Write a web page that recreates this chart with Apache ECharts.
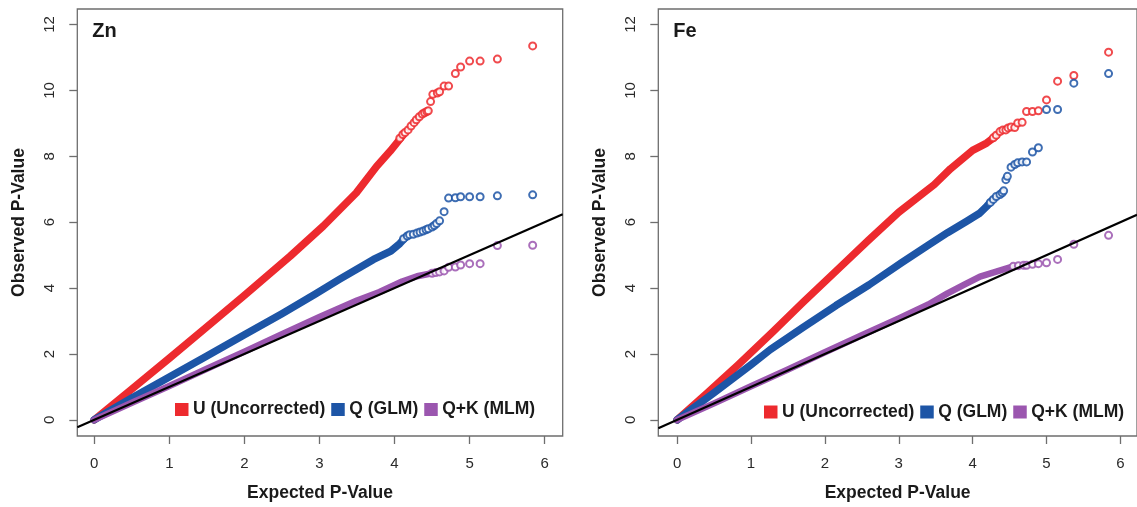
<!DOCTYPE html>
<html>
<head>
<meta charset="utf-8">
<script src="https://cdn.jsdelivr.net/npm/echarts@6/dist/echarts.min.js"></script>
<style>
html,body{margin:0;padding:0;background:#fff;}
#chart{width:1137px;height:507px;}
</style>
</head>
<body>
<div id="chart"></div>
<script>
// ---------- data ----------
const panelTitles = ['Zn', 'Fe'];
const seriesNames = ['U (Uncorrected)', 'Q (GLM)', 'Q+K (MLM)'];
const xTicks = [0, 1, 2, 3, 4, 5, 6];
const yTicks = [0, 2, 4, 6, 8, 10, 12];

// Zn: dense body (expected, observed) and sparse upper tail
const znUBody = [[0,0],[0.5,0.93],[1.0,1.87],[1.5,2.82],[2.0,3.78],[2.61,4.97],[3.05,5.88],[3.49,6.89],[3.76,7.69],[3.94,8.15],[4.1,8.6]];
const znUTail = [[4.07,8.55],[4.11,8.66],[4.14,8.72],[4.18,8.8],[4.22,8.92],[4.26,9.02],[4.29,9.11],[4.33,9.2],[4.37,9.28],[4.4,9.32],[4.43,9.36],[4.45,9.38],[4.48,9.66],[4.51,9.88],[4.57,9.92],[4.6,9.96],[4.66,10.13],[4.72,10.13],[4.81,10.51],[4.88,10.71],[5.0,10.89],[5.14,10.89],[5.37,10.95],[5.84,11.35]];
const znQBody = [[0,0],[0.5,0.66],[1.0,1.3],[1.5,1.94],[2.0,2.58],[2.5,3.22],[2.94,3.81],[3.27,4.27],[3.72,4.87],[3.95,5.12],[4.07,5.35],[4.15,5.55]];
const znQTail = [[4.12,5.5],[4.17,5.58],[4.2,5.62],[4.25,5.63],[4.3,5.67],[4.34,5.7],[4.38,5.73],[4.42,5.77],[4.45,5.8],[4.5,5.85],[4.53,5.9],[4.56,5.96],[4.6,6.04],[4.66,6.32],[4.72,6.73],[4.81,6.74],[4.88,6.77],[5.0,6.77],[5.14,6.77],[5.37,6.8],[5.84,6.83]];
const znQKBody = [[0,0],[0.5,0.52],[1.0,1.03],[1.5,1.55],[2.0,2.07],[2.5,2.6],[3.0,3.12],[3.5,3.62],[3.8,3.88],[4.1,4.2],[4.3,4.36],[4.5,4.45]];
const znQKTail = [[4.5,4.45],[4.55,4.47],[4.6,4.49],[4.66,4.52],[4.72,4.63],[4.81,4.64],[4.88,4.7],[5.0,4.74],[5.14,4.74],[5.37,5.29],[5.84,5.3]];

// Fe
const feUBody = [[0,0],[0.4,0.8],[0.82,1.66],[1.3,2.68],[1.7,3.56],[2.2,4.62],[2.59,5.45],[3.0,6.3],[3.48,7.14],[3.7,7.62],[3.85,7.9],[4.0,8.18],[4.19,8.4],[4.32,8.62]];
const feUTail = [[4.28,8.56],[4.32,8.64],[4.37,8.75],[4.41,8.8],[4.45,8.8],[4.48,8.86],[4.52,8.89],[4.57,8.87],[4.61,9.01],[4.67,9.03],[4.73,9.36],[4.81,9.36],[4.89,9.38],[5.0,9.71],[5.15,10.28],[5.37,10.45],[5.84,11.16]];
const feQBody = [[0,0],[0.5,0.82],[1.0,1.67],[1.26,2.13],[1.7,2.8],[2.15,3.47],[2.6,4.1],[3.04,4.77],[3.4,5.3],[3.66,5.68],[3.92,6.03],[4.1,6.28],[4.19,6.48],[4.26,6.65]];
const feQTail = [[4.24,6.6],[4.28,6.69],[4.32,6.78],[4.37,6.84],[4.4,6.89],[4.42,6.95],[4.45,7.29],[4.47,7.39],[4.52,7.67],[4.57,7.75],[4.61,7.8],[4.67,7.83],[4.73,7.83],[4.81,8.13],[4.89,8.26],[5.0,9.42],[5.15,9.42],[5.37,10.22],[5.84,10.51]];
const feQKBody = [[0,0],[0.5,0.5],[1.0,1.02],[1.5,1.53],[2.0,2.05],[2.5,2.57],[3.0,3.08],[3.4,3.5],[3.66,3.84],[3.9,4.12],[4.1,4.35],[4.32,4.5],[4.55,4.66]];
const feQKTail = [[4.55,4.66],[4.62,4.68],[4.69,4.69],[4.73,4.69],[4.81,4.72],[4.89,4.74],[5.0,4.77],[5.15,4.87],[5.37,5.33],[5.84,5.6]];

// axis extents (R-style padded ranges)
const xRangeZn = [-0.226, 6.24];
const xRangeFe = [-0.255, 6.225];
const yRange = [-0.49, 12.47];

// ---------- styling ----------
const colors = ['#ED2A2E', '#1D55A6', '#9B56AF'];
const FONT = '"Liberation Sans", Arial, Helvetica, sans-serif';
const boxColor = '#6e6e6e';

const panels = [
  {title: panelTitles[0], xr: xRangeZn, data: [[znUBody, znUTail],[znQBody, znQTail],[znQKBody, znQKTail]]},
  {title: panelTitles[1], xr: xRangeFe, data: [[feUBody, feUTail],[feQBody, feQTail],[feQKBody, feQKTail]]}
];
const gridLefts = [77.3, 658.3];
const legendLefts = [175, 764];
const legendTops = [400.5, 403];

const option = {
  animation: false,
  backgroundColor: '#fff',
  textStyle: {fontFamily: FONT},
  title: panels.map((p, i) => ({
    text: p.title, left: gridLefts[i] + 15, top: 21.5, padding: 0,
    textStyle: {fontFamily: FONT, fontSize: 20, fontWeight: 'bold', color: '#1a1a1a'}
  })),
  legend: panels.map((p, i) => ({
    left: legendLefts[i], top: legendTops[i], orient: 'horizontal', padding: 0,
    itemWidth: 13.5, itemHeight: 13, itemGap: 6, selectedMode: false,
    textStyle: {fontFamily: FONT, fontSize: 17.5, fontWeight: 'bold', color: '#1a1a1a', padding: [0,0,0,-0.5]},
    data: seriesNames.map((n, k) => ({name: n, icon: 'rect', itemStyle: {color: colors[k], borderWidth: 0}}))
  })),
  grid: panels.map((p, i) => ({
    left: gridLefts[i], top: 9, width: 485.4, height: 428.3,
    show: true, borderColor: boxColor, borderWidth: 1.3, backgroundColor: 'transparent'
  })),
  xAxis: panels.map((p, i) => ({
    type: 'value', gridIndex: i, min: p.xr[0], max: p.xr[1],
    name: 'Expected P-Value', nameLocation: 'middle', nameGap: 48,
    nameTextStyle: {fontFamily: FONT, fontSize: 17.5, fontWeight: 'bold', color: '#1a1a1a'},
    axisLine: {show: false, onZero: false},
    splitLine: {show: false},
    axisTick: {show: true, inside: false, length: 8, lineStyle: {color: boxColor, width: 1.3}, customValues: xTicks},
    axisLabel: {margin: 20, fontFamily: FONT, fontSize: 15, color: '#2a2a2a', customValues: xTicks}
  })),
  yAxis: panels.map((p, i) => ({
    type: 'value', gridIndex: i, min: yRange[0], max: yRange[1],
    name: 'Observed P-Value', nameLocation: 'middle', nameGap: 49, nameRotate: 90,
    nameTextStyle: {fontFamily: FONT, fontSize: 17.5, fontWeight: 'bold', color: '#1a1a1a'},
    axisLine: {show: false, onZero: false},
    splitLine: {show: false},
    axisTick: {show: true, inside: false, length: 8, lineStyle: {color: boxColor, width: 1.3}, customValues: yTicks},
    axisLabel: {margin: 20, rotate: 90, fontFamily: FONT, fontSize: 15, color: '#2a2a2a', customValues: yTicks}
  })),
  series: []
};

panels.forEach((p, i) => {
  p.data.forEach((pair, k) => {
    option.series.push({
      name: seriesNames[k], type: 'line', xAxisIndex: i, yAxisIndex: i,
      data: pair[0], showSymbol: false, symbol: 'none', smooth: false, silent: true,
      lineStyle: {color: colors[k], width: k === 2 ? 6.5 : 7.5, cap: 'round', join: 'round'},
      itemStyle: {color: colors[k]}, z: 2 + k
    });
    option.series.push({
      name: seriesNames[k], type: 'scatter', xAxisIndex: i, yAxisIndex: i,
      data: pair[1], symbol: 'emptyCircle', symbolSize: 7, silent: true,
      itemStyle: {color: colors[k], borderWidth: 1, opacity: 0.85}, z: 2 + k
    });
  });
  // reference line y = x across the full x extent of the panel
  option.series.push({
    type: 'line', xAxisIndex: i, yAxisIndex: i, silent: true, clip: true,
    data: [[p.xr[0], p.xr[0]], [p.xr[1], p.xr[1]]], showSymbol: false, symbol: 'none',
    lineStyle: {color: '#000', width: 2.2}, z: 10
  });
});

const chart = echarts.init(document.getElementById('chart'), null, {renderer: 'canvas'});
chart.setOption(option);
</script>
</body>
</html>
